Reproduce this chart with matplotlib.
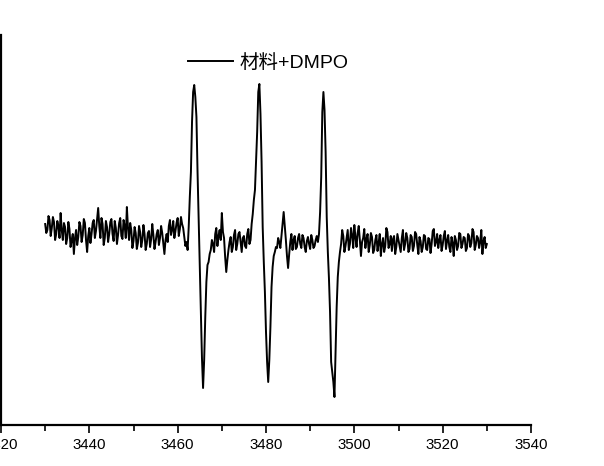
import matplotlib
matplotlib.use("Agg")
import matplotlib.pyplot as plt
from matplotlib.ticker import MultipleLocator

plt.rcParams['font.family'] = ['Liberation Sans', 'Noto Sans CJK SC', 'DejaVu Sans']

# Magnetic field (G) and EPR intensity (a.u.)
field_a = [3430.0, 3430.25, 3430.5, 3430.75, 3431.0, 3431.25, 3431.5, 3431.75,
           3432.0, 3432.25, 3432.5, 3432.75, 3433.0, 3433.25, 3433.5, 3433.75,
           3434.0, 3434.25, 3434.5, 3434.75, 3435.0, 3435.25, 3435.5, 3435.75,
           3436.0, 3436.25, 3436.5, 3436.75, 3437.0, 3437.25, 3437.5, 3437.75,
           3438.0, 3438.25, 3438.5, 3438.75, 3439.0, 3439.25, 3439.5, 3439.75,
           3440.0, 3440.25, 3440.5, 3440.75, 3441.0, 3441.25, 3441.5, 3441.75,
           3442.0, 3442.25, 3442.5, 3442.75, 3443.0, 3443.25, 3443.5, 3443.75,
           3444.0, 3444.25, 3444.5, 3444.75, 3445.0, 3445.25, 3445.5, 3445.75,
           3446.0, 3446.25, 3446.5, 3446.75, 3447.0, 3447.25, 3447.5, 3447.75,
           3448.0, 3448.25, 3448.5, 3448.75, 3449.0, 3449.25, 3449.5, 3449.75,
           3450.0, 3450.25, 3450.5, 3450.75, 3451.0, 3451.25, 3451.5, 3451.75,
           3452.0, 3452.25, 3452.5, 3452.75, 3453.0, 3453.25, 3453.5, 3453.75,
           3454.0, 3454.25, 3454.5, 3454.75, 3455.0, 3455.25, 3455.5, 3455.75,
           3456.0, 3456.25, 3456.5, 3456.75, 3457.0, 3457.25, 3457.5, 3457.75,
           3458.0, 3458.25, 3458.5, 3458.75, 3459.0, 3459.25, 3459.5, 3459.75,
           3460.0, 3460.25, 3460.5, 3460.75, 3461.0, 3461.25, 3461.5, 3461.75]
int_a = [8, -1, 2, 16, 12, -4, 4, 15, 10, -8, -2, 11, 6, -6, 19, 2,
         -8, 9, 5, -12, -6, 10, 3, -15, -8, -2, -22, -6, 2, -13, -5, 10,
         6, -10, -3, 13, 9, -8, -20, -4, 4, -11, -2, 9, 12, -6, 1, 12,
         24, 6, -6, 14, 8, -13, -6, 11, 5, -10, -2, 10, 13, -2, -9, 11,
         4, -12, -3, 9, 14, -4, -7, 12, 6, -6, 25, 4, -8, 9, 2, -16,
         -9, 5, -1, -17, -11, 6, 0, -15, -8, 7, -2, -18, -12, -1, 1, -15,
         -7, 8, -3, -17, -10, -2, 2, -13, -6, 6, -1, -11, -22, -8, -2, -10,
         6, 12, -3, 2, 11, -6, 1, 9, 14, -4, 3, 15, 8, 4, -5, -14]

field_b = [3462.0, 3462.25, 3462.5, 3462.75, 3463.0, 3463.25, 3463.5, 3463.75,
           3464.0, 3464.25, 3464.5, 3464.75, 3465.0, 3465.25, 3465.5, 3465.75,
           3466.0, 3466.25, 3466.5, 3466.75, 3467.0, 3467.25, 3467.5, 3467.75]
int_b = [-10, -18, 5, 35, 60, 110, 140, 147, 135, 115, 60, 15,
         -33, -80, -126, -156, -128, -85, -50, -33, -30, -22, -18, -8]

field_c = [3468.0, 3468.25, 3468.5, 3468.75, 3469.0, 3469.25, 3469.5, 3469.75,
           3470.0, 3470.25, 3470.5, 3470.75, 3471.0, 3471.25, 3471.5, 3471.75,
           3472.0, 3472.25, 3472.5, 3472.75, 3473.0, 3473.25, 3473.5, 3473.75,
           3474.0, 3474.25, 3474.5, 3474.75, 3475.0, 3475.25, 3475.5, 3475.75,
           3476.0, 3476.25]
int_c = [-12, -20, -2, 4, -14, -4, 2, -8, 19, 0, -6, -25, -40, -28, -18, -10,
         -5, -20, -15, -3, 2, -18, -12, -2, 0, -10, -20, -6, -4, -14, -16, -2,
         3, -12]

field_d = [3476.5, 3476.75, 3477.0, 3477.25, 3477.5, 3477.75, 3478.0, 3478.25,
           3478.5, 3478.75, 3479.0, 3479.25, 3479.5, 3479.75, 3480.0, 3480.25,
           3480.5, 3480.75, 3481.0, 3481.25, 3481.5, 3481.75, 3482.0, 3482.25]
int_d = [-8, 8, 18, 32, 42, 70, 100, 140, 148, 118, 70, 5,
         -30, -60, -100, -130, -150, -128, -95, -55, -35, -24, -20, -15]

field_e = [3482.5, 3482.75, 3483.0, 3483.25, 3483.5, 3483.75, 3484.0, 3484.25,
           3484.5, 3484.75, 3485.0, 3485.25, 3485.5, 3485.75, 3486.0, 3486.25,
           3486.5, 3486.75, 3487.0, 3487.25, 3487.5, 3487.75, 3488.0, 3488.25,
           3488.5, 3488.75, 3489.0, 3489.25, 3489.5, 3489.75, 3490.0, 3490.25,
           3490.5, 3490.75]
int_e = [-16, -6, -10, -16, -4, 8, 20, 6, -8, -24, -36, -22, -10, -2, -18, -8,
         -4, -17, -15, -6, -2, -12, -16, -3, -6, -15, -20, -9, -5, -12, -17, -3,
         -8, -16]

field_f = [3491.0, 3491.25, 3491.5, 3491.75, 3492.0, 3492.25, 3492.5, 3492.75,
           3493.0, 3493.25, 3493.5, 3493.75, 3494.0, 3494.25, 3494.5, 3494.75,
           3495.0, 3495.25, 3495.5, 3495.75, 3496.0, 3496.25, 3496.5, 3496.75]
int_f = [-14, -8, -4, -10, -2, 20, 55, 120, 140, 122, 80, 15,
         -20, -46, -80, -130, -140, -150, -165, -120, -75, -45, -30, -20]

field_g = [3497.0, 3497.25, 3497.5, 3497.75, 3498.0, 3498.25, 3498.5, 3498.75,
           3499.0, 3499.25, 3499.5, 3499.75, 3500.0, 3500.25, 3500.5, 3500.75,
           3501.0, 3501.25, 3501.5, 3501.75, 3502.0, 3502.25, 3502.5, 3502.75,
           3503.0, 3503.25, 3503.5, 3503.75, 3504.0, 3504.25, 3504.5, 3504.75,
           3505.0, 3505.25, 3505.5, 3505.75, 3506.0, 3506.25, 3506.5, 3506.75,
           3507.0, 3507.25, 3507.5, 3507.75, 3508.0, 3508.25, 3508.5, 3508.75,
           3509.0, 3509.25, 3509.5, 3509.75, 3510.0, 3510.25, 3510.5, 3510.75,
           3511.0, 3511.25, 3511.5, 3511.75, 3512.0, 3512.25, 3512.5, 3512.75,
           3513.0, 3513.25, 3513.5, 3513.75, 3514.0, 3514.25, 3514.5, 3514.75,
           3515.0, 3515.25, 3515.5, 3515.75, 3516.0, 3516.25, 3516.5, 3516.75,
           3517.0, 3517.25, 3517.5, 3517.75, 3518.0, 3518.25, 3518.5, 3518.75,
           3519.0, 3519.25, 3519.5, 3519.75, 3520.0, 3520.25, 3520.5, 3520.75,
           3521.0, 3521.25, 3521.5, 3521.75, 3522.0, 3522.25, 3522.5, 3522.75,
           3523.0, 3523.25, 3523.5, 3523.75, 3524.0, 3524.25, 3524.5, 3524.75,
           3525.0, 3525.25, 3525.5, 3525.75, 3526.0, 3526.25, 3526.5, 3526.75,
           3527.0, 3527.25, 3527.5, 3527.75, 3528.0, 3528.25, 3528.5, 3528.75,
           3529.0, 3529.25, 3529.5, 3529.75, 3530.0]
int_g = [-12, 2, -4, -20, -14, -6, 2, -18, -12, 4, -3, -16, 7, -5, -15, -1,
         6, -8, -24, -10, -6, 3, -16, -7, -2, -20, -13, -1, -5, -21, -18, -8,
         -3, -19, -11, -2, -24, -12, -6, -20, -14, 4, 0, -16, -12, -4, -19, -7,
         -4, -22, -15, -2, -8, -14, -20, -6, 2, -18, -12, -1, -6, -20, -17, -3,
         -5, -19, -14, 0, -2, -13, -22, -5, -9, -20, -15, -3, -4, -17, -18, -6,
         -7, -21, -12, 1, 3, -14, -10, -2, -16, -8, -3, -19, -13, -4, 1, -17,
         -9, -3, -15, -20, -5, -11, -24, -4, -8, -18, -14, -1, -2, -16, -12, -5,
         -6, -19, -16, -2, -4, -15, -11, 3, 0, -18, -13, -4, -6, -16, -10, 2,
         -22, -9, -5, -16, -12]

field = field_a + field_b + field_c + field_d + field_e + field_f + field_g
intensity = int_a + int_b + int_c + int_d + int_e + int_f + int_g

x_ticks = [3420, 3440, 3460, 3480, 3500, 3520, 3540]
legend_label = "材料+DMPO"

fig = plt.figure(figsize=(6.04, 4.66), dpi=100)
ax = fig.add_axes([1 / 604, 1 - 425 / 466, 530 / 604, 390 / 466])

ax.plot(field, intensity, color='black', linewidth=1.4, label=legend_label)

ax.set_xlim(3420, 3540)
ax.set_ylim(-193, 197)
ax.set_xticks(x_ticks)
ax.set_xticklabels([str(t) for t in x_ticks])
ax.xaxis.set_minor_locator(MultipleLocator(10))
ax.set_yticks([])

for s in ['top', 'right']:
    ax.spines[s].set_visible(False)
for s in ['left', 'bottom']:
    ax.spines[s].set_linewidth(1.6)

ax.tick_params(axis='x', which='major', direction='out', length=6, width=1.2,
               labelsize=10.8, pad=3.5, colors='black')
ax.tick_params(axis='x', which='minor', direction='out', length=4, width=1.2)
for lab in ax.get_xticklabels():
    lab.set_fontfamily(['Liberation Sans'])

leg = fig.legend(loc='upper left', bbox_to_anchor=(188 / 604, 1 - 54 / 466),
                 frameon=False, handlelength=2.3, handletextpad=0.35,
                 borderpad=0, borderaxespad=0,
                 prop={'family': ['Liberation Sans', 'Noto Sans CJK SC'], 'size': 14})
for line in leg.get_lines():
    line.set_linewidth(1.4)

fig.savefig('out.png', dpi=100)
